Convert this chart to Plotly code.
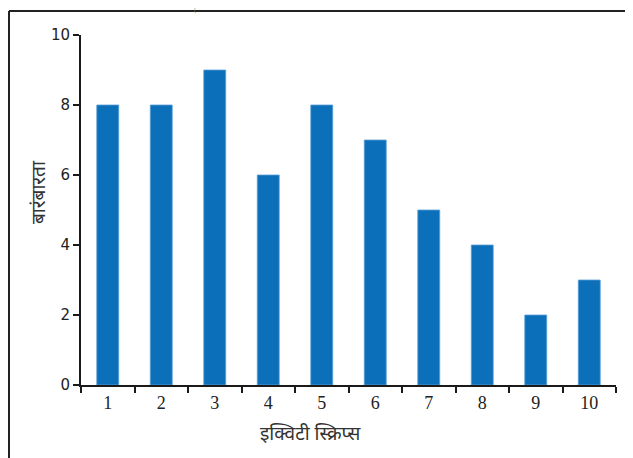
import plotly.graph_objects as go

categories = ["1", "2", "3", "4", "5", "6", "7", "8", "9", "10"]
frequency = [8, 8, 9, 6, 8, 7, 5, 4, 2, 3]
y_ticks = [0, 2, 4, 6, 8, 10]
x_title = "इक्विटी स्क्रिप्स"
y_title = "बारंबारता"

# page body has an 8px margin, so the canvas is 8px smaller on each side
W, H = 625, 450
L, R, T, B = 73, 17, 27, 73
pw, ph = W - L - R, H - T - B

def px(x):
    return (x - L) / pw

def py(y):
    return (H - B - y) / ph

deva = "Noto Sans, Lohit Devanagari, sans-serif"

fig = go.Figure(go.Bar(
    x=categories, y=frequency,
    marker=dict(color="#0b6fba", line=dict(color="#5c9fd6", width=0.8)),
    width=0.41,
))

fig.update_layout(
    width=W, height=H,
    margin=dict(l=L, r=R, t=T, b=B),
    paper_bgcolor="white", plot_bgcolor="white",
    showlegend=False,
    xaxis=dict(
        type="category", showline=True, linecolor="#1a1a1a", linewidth=2,
        ticks="outside", tickson="boundaries", ticklen=6, tickcolor="#1a1a1a", tickwidth=1.5,
        tickfont=dict(family="Liberation Serif", size=18, color="#222"),
        showgrid=False, zeroline=False,
    ),
    yaxis=dict(
        range=[0, 10], tickvals=y_ticks, showline=True, linecolor="#1a1a1a", linewidth=2,
        ticks="outside", ticklen=6, tickcolor="#1a1a1a", tickwidth=1.5,
        tickfont=dict(family="DejaVu Sans", size=15, color="#222"),
        showgrid=False, zeroline=False,
    ),
    shapes=[
        dict(type="line", xref="paper", yref="paper", x0=px(1), x1=px(1), y0=py(470), y1=py(3),
             line=dict(color="#222", width=2)),
        dict(type="line", xref="paper", yref="paper", x0=px(1), x1=px(650), y0=py(3), y1=py(3),
             line=dict(color="#222", width=2)),
    ],
    annotations=[
        dict(text=x_title, xref="paper", yref="paper", x=px(302), y=py(425), showarrow=False,
             xanchor="center", yanchor="middle", font=dict(family=deva, size=19, color="#333")),
        dict(text=y_title, xref="paper", yref="paper", x=px(30), y=py(184), showarrow=False,
             textangle=-90, xanchor="center", yanchor="middle", font=dict(family=deva, size=19, color="#333")),
        dict(text="(", xref="paper", yref="paper", x=px(187), y=py(-3), showarrow=False,
             xanchor="center", yanchor="top", font=dict(family="Liberation Serif", size=6, color="#777")),
    ],
)

fig.write_html("out.html")
